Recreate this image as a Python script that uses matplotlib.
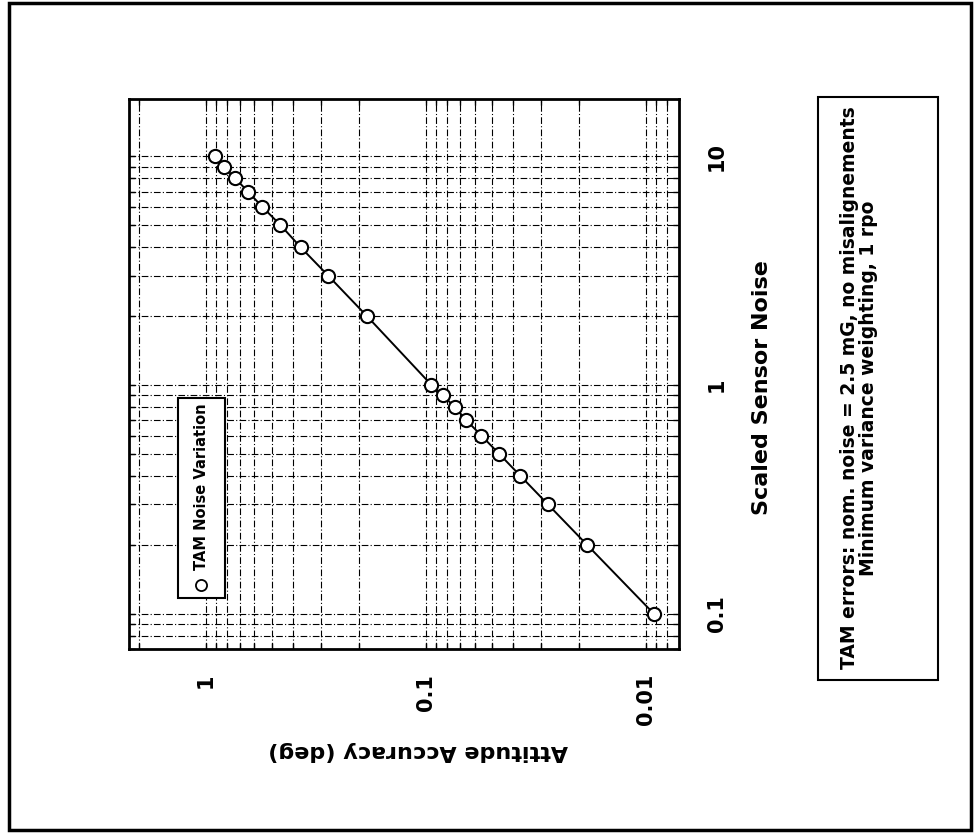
import matplotlib.pyplot as plt
from matplotlib.patches import Rectangle
from matplotlib.ticker import LogLocator, NullFormatter

noise = [0.1, 0.2, 0.3, 0.4, 0.5, 0.6, 0.7, 0.8, 0.9, 1,
         2, 3, 4, 5, 6, 7, 8, 9, 10]
accuracy = [0.0092, 0.0185, 0.0278, 0.0371, 0.0464, 0.0558, 0.0653, 0.0738, 0.0834, 0.0942,
            0.185, 0.277, 0.370, 0.457, 0.552, 0.642, 0.733, 0.828, 0.910]

acc_ticks = [1, 0.1, 0.01]
acc_labels = ['1', '0.1', '0.01']
noise_ticks = [0.1, 1, 10]
noise_labels = ['0.1', '1', '10']

plt.rcParams['font.family'] = ['DejaVu Sans']
plt.rcParams['font.weight'] = 'bold'

W, H = 974, 833
fig = plt.figure(figsize=(W / 100, H / 100), dpi=100)

# axes frame in pixels: x 129..679, y 99..649
ax = fig.add_axes([129 / W, 1 - 649 / H, 550 / W, 550 / H])
ax.set_xscale('log')
ax.set_yscale('log')

ax.plot(accuracy, noise, color='black', lw=1.4, marker='o', ms=9.5,
        mfc='white', mec='black', mew=1.5, zorder=3)

ax.set_xlim(2.23, 0.00706)
ax.set_ylim(0.07, 17.8)

ax.xaxis.set_minor_locator(LogLocator(base=10, subs=range(2, 10)))
ax.yaxis.set_minor_locator(LogLocator(base=10, subs=range(2, 10)))
ax.xaxis.set_minor_formatter(NullFormatter())
ax.yaxis.set_minor_formatter(NullFormatter())

ax.set_xticks(acc_ticks)
ax.set_xticklabels(acc_labels, rotation=90, fontsize=15, fontweight='bold')
ax.yaxis.tick_right()
ax.set_yticks(noise_ticks)
ax.set_yticklabels(noise_labels, rotation=90, fontsize=15, fontweight='bold', va='center')

ax.tick_params(which='both', direction='in', top=True, bottom=True, left=True, right=True,
               length=4, width=1)
ax.tick_params(axis='x', pad=18)
ax.tick_params(axis='y', pad=20)

ax.grid(True, which='both', color='black', lw=0.8, ls=(0, (6, 2, 1, 2)))
ax.set_axisbelow(True)
for sp in ax.spines.values():
    sp.set_linewidth(2)

ax.set_xlabel('Attitude Accuracy (deg)', rotation=180, fontsize=16, fontweight='bold',
              ha='center', va='center')
ax.xaxis.set_label_coords(0.525, -0.185)
ax.set_ylabel('Scaled Sensor Noise', rotation=90, fontsize=16, fontweight='bold',
              ha='center', va='center')
ax.yaxis.set_label_position('right')
ax.yaxis.set_label_coords(1.133, 0.476)

# legend box drawn by hand (rotated)
ax.add_patch(Rectangle((0.089, 0.093), 0.086, 0.363, transform=ax.transAxes,
                       facecolor='white', edgecolor='black', lw=1.5, zorder=4))
ax.plot([0.1318], [0.116], transform=ax.transAxes, marker='o', ms=8, mfc='white',
        mec='black', mew=1.3, zorder=5, clip_on=False)
ax.text(0.1318, 0.143, 'TAM Noise Variation', transform=ax.transAxes, rotation=90,
        ha='center', va='bottom', fontsize=10.5, fontweight='bold', zorder=5)

# annotation box on the right
fig.patches.append(Rectangle((818 / W, 1 - 680 / H), 120 / W, 583 / H,
                             transform=fig.transFigure, facecolor='none',
                             edgecolor='black', lw=1.5))
fig.text(859 / W, 1 - 388 / H,
         'TAM errors: nom. noise = 2.5 mG, no misalignements\nMinimum variance weighting, 1 rpo',
         rotation=90, ha='center', va='center', multialignment='center',
         fontsize=13.5, fontweight='bold', linespacing=1.0)

# page border
fig.patches.append(Rectangle((9 / W, 1 - 830 / H), 962 / W, 827 / H,
                             transform=fig.transFigure, facecolor='none',
                             edgecolor='black', lw=2.5))

fig.savefig('out.png', dpi=100)
